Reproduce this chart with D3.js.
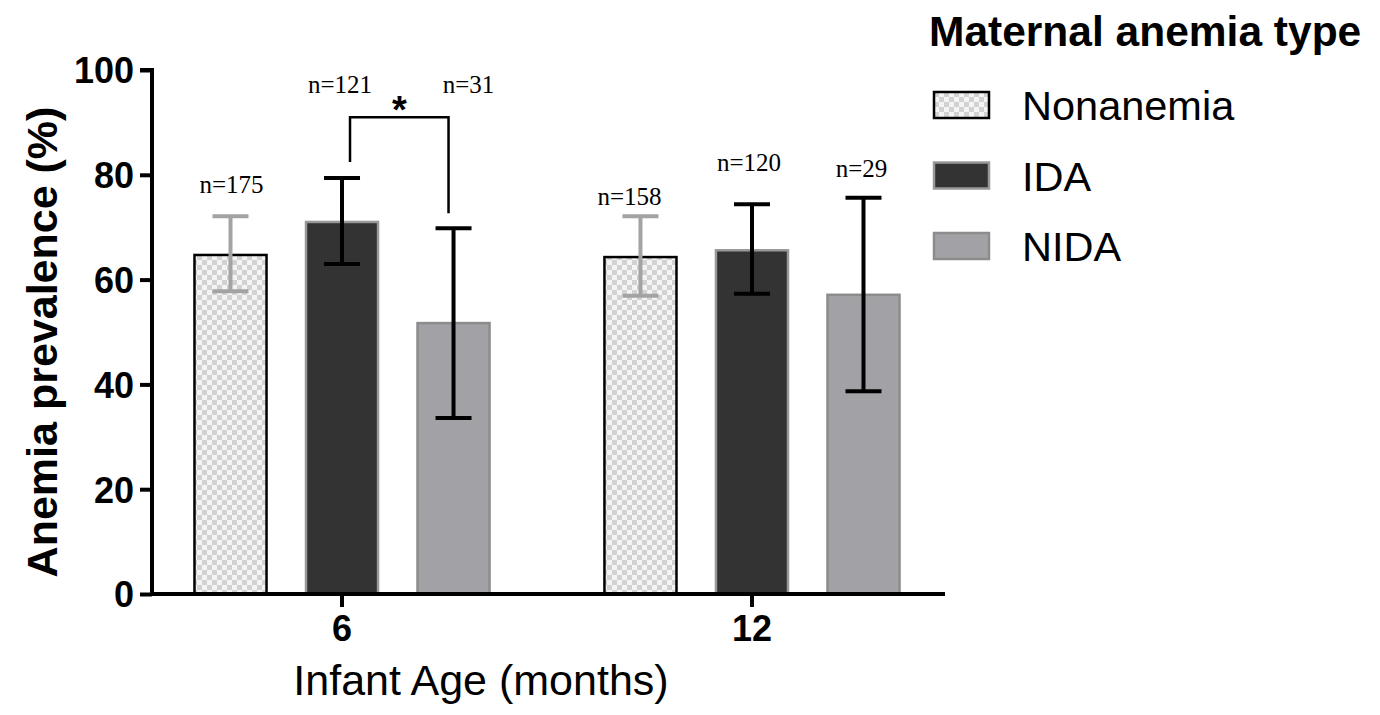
<!DOCTYPE html>
<html>
<head>
<meta charset="utf-8">
<script src="https://cdn.jsdelivr.net/npm/d3@7"></script>
<style>
  body { margin: 0; background: #fff; }
</style>
</head>
<body>
<div id="chart"></div>
<script>
// data
var ages = ["6", "12"];
var groups = ["Nonanemia", "IDA", "NIDA"];
var prevalence = [[64.7, 71.0, 51.7], [64.3, 65.6, 57.1]];
var lowerCI = [[57.8, 63.0, 33.6], [56.9, 57.3, 38.7]];
var upperCI = [[72.1, 79.4, 69.8], [72.1, 74.4, 75.6]];
var counts = [["n=175", "n=121", "n=31"], ["n=158", "n=120", "n=29"]];
var yTicks = [0, 20, 40, 60, 80, 100];

var W = 1380, H = 715;
var margin = {top: 70, left: 152, bottom: 121, right: 435};
var width = W - margin.left - margin.right,
    height = H - margin.top - margin.bottom;

var svg = d3.select("#chart").append("svg")
  .attr("width", W).attr("height", H);

var defs = svg.append("defs");
var pat = defs.append("pattern")
  .attr("id", "checker")
  .attr("patternUnits", "userSpaceOnUse")
  .attr("width", 10).attr("height", 10);
pat.append("rect").attr("width", 10).attr("height", 10).attr("fill", "#f4f4f4");
pat.append("rect").attr("width", 5).attr("height", 5).attr("fill", "#d2d2d2");
pat.append("rect").attr("x", 5).attr("y", 5).attr("width", 5).attr("height", 5).attr("fill", "#d2d2d2");

var fills = {Nonanemia: "url(#checker)", IDA: "#333333", NIDA: "#a2a2a6"};
var strokes = {Nonanemia: "#000", IDA: "#999", NIDA: "#8c8c8c"};
var errColor = {Nonanemia: "#a3a3a3", IDA: "#000", NIDA: "#000"};

var g = svg.append("g")
  .attr("transform", "translate(" + margin.left + "," + margin.top + ")");

var x0 = d3.scaleBand()
  .domain(ages)
  .range([0, 790])
  .paddingInner(0.073);

var x1 = d3.scaleBand()
  .domain(groups)
  .range([0, x0.bandwidth()])
  .paddingInner(0.354)
  .paddingOuter(0.381);

var y = d3.scaleLinear()
  .domain([0, 100])
  .range([height, 0]);

// rows of data
var rows = [];
ages.forEach(function(a, i) {
  groups.forEach(function(gr, j) {
    rows.push({age: a, group: gr, ai: i, gi: j, v: prevalence[i][j], lo: lowerCI[i][j],
               hi: upperCI[i][j], n: counts[i][j]});
  });
});

function cx(d) { return x0(d.age) + x1(d.group) + x1.bandwidth() / 2; }

// bars
g.selectAll(".bar")
  .data(rows)
  .enter().append("rect")
    .attr("x", function(d) { return x0(d.age) + x1(d.group); })
    .attr("y", function(d) { return y(d.v); })
    .attr("width", x1.bandwidth())
    .attr("height", function(d) { return height - y(d.v); })
    .attr("fill", function(d) { return fills[d.group]; })
    .attr("stroke", function(d) { return strokes[d.group]; })
    .attr("stroke-width", 2.5);

// error bars
var capW = 36;
var eb = g.selectAll(".err")
  .data(rows)
  .enter().append("g")
    .attr("stroke", function(d) { return errColor[d.group]; })
    .attr("stroke-width", 4);
eb.append("line")
  .attr("x1", cx).attr("x2", cx)
  .attr("y1", function(d) { return y(d.lo); })
  .attr("y2", function(d) { return y(d.hi); });
eb.append("line")
  .attr("x1", function(d) { return cx(d) - capW / 2; })
  .attr("x2", function(d) { return cx(d) + capW / 2; })
  .attr("y1", function(d) { return y(d.hi); })
  .attr("y2", function(d) { return y(d.hi); });
eb.append("line")
  .attr("x1", function(d) { return cx(d) - capW / 2; })
  .attr("x2", function(d) { return cx(d) + capW / 2; })
  .attr("y1", function(d) { return y(d.lo); })
  .attr("y2", function(d) { return y(d.lo); });

// n labels: placed above the caps, nudged like the original
var nDx = [[1, -2, 15], [-11, -3, -2]];
var nGap = [[23, 0, 0], [11, 33, 21]];
g.selectAll(".nlab")
  .data(rows)
  .enter().append("text")
    .attr("x", function(d) { return cx(d) + nDx[d.ai][d.gi]; })
    .attr("y", function(d) {
      if (d.ai === 0 && d.gi > 0) return y(100) + 23;
      return y(d.hi) - nGap[d.ai][d.gi];
    })
    .attr("text-anchor", "middle")
    .attr("font-family", "Liberation Serif, Times New Roman, serif")
    .attr("font-size", 25)
    .attr("fill", "#000")
    .text(function(d) { return d.n; });

// significance bracket IDA vs NIDA at 6 months
var ida6 = rows[1], nida6 = rows[2];
var bx1 = cx(ida6) + 8, bx2 = cx(nida6) - 5, byTop = y(91);
g.append("path")
  .attr("d", "M" + bx1 + "," + (y(ida6.hi) - 16) + "V" + byTop + "H" + bx2 + "V" + (y(nida6.hi) - 15))
  .attr("fill", "none")
  .attr("stroke", "#000")
  .attr("stroke-width", 2.5);
g.append("text")
  .attr("x", (bx1 + bx2) / 2)
  .attr("y", byTop + 6)
  .attr("text-anchor", "middle")
  .attr("font-family", "Liberation Sans, Arial, sans-serif")
  .attr("font-weight", "bold")
  .attr("font-size", 38)
  .text("*");

// axes
var yAxis = g.append("g")
  .call(d3.axisLeft(y).tickValues(yTicks).tickSize(12).tickPadding(6));
var xAxis = g.append("g")
  .attr("transform", "translate(0," + height + ")")
  .call(d3.axisBottom(x0).tickSize(13).tickPadding(8));
[yAxis, xAxis].forEach(function(ax) {
  ax.select(".domain").attr("stroke-width", 4).attr("stroke", "#000");
  ax.selectAll(".tick line").attr("stroke-width", 4).attr("stroke", "#000");
  ax.selectAll(".tick text")
    .attr("font-family", "Liberation Sans, Arial, sans-serif")
    .attr("font-weight", "bold")
    .attr("font-size", 36)
    .attr("fill", "#000");
});
xAxis.select(".domain").attr("d", "M0,0H" + (945 - margin.left));
yAxis.select(".domain").attr("d", "M-12,0H0V" + height);
yAxis.selectAll(".tick text").attr("dy", "0.36em");
xAxis.selectAll(".tick text").attr("dy", "0.72em");

// axis titles
svg.append("text")
  .attr("transform", "translate(57,342) rotate(-90)")
  .attr("text-anchor", "middle")
  .attr("font-family", "Liberation Sans, Arial, sans-serif")
  .attr("font-weight", "bold")
  .attr("font-size", 43)
  .text("Anemia prevalence (%)");
svg.append("text")
  .attr("x", 481).attr("y", 695)
  .attr("text-anchor", "middle")
  .attr("font-family", "Liberation Sans, Arial, sans-serif")
  .attr("font-size", 43)
  .text("Infant Age (months)");

// legend
var lg = svg.append("g");
lg.append("text")
  .attr("x", 929).attr("y", 46)
  .attr("font-family", "Liberation Sans, Arial, sans-serif")
  .attr("font-weight", "bold")
  .attr("font-size", 42.5)
  .text("Maternal anemia type");
var item = lg.selectAll(".item")
  .data(groups)
  .enter().append("g")
    .attr("transform", function(d, i) { return "translate(934," + (92 + i * 70.5) + ")"; });
item.append("rect")
  .attr("width", 55).attr("height", 26)
  .attr("fill", function(d) { return fills[d]; })
  .attr("stroke", function(d) { return strokes[d]; })
  .attr("stroke-width", 2.5);
item.append("text")
  .attr("x", 88).attr("y", 28)
  .attr("font-family", "Liberation Sans, Arial, sans-serif")
  .attr("font-size", 41.5)
  .text(function(d) { return d; });
</script>
</body>
</html>
